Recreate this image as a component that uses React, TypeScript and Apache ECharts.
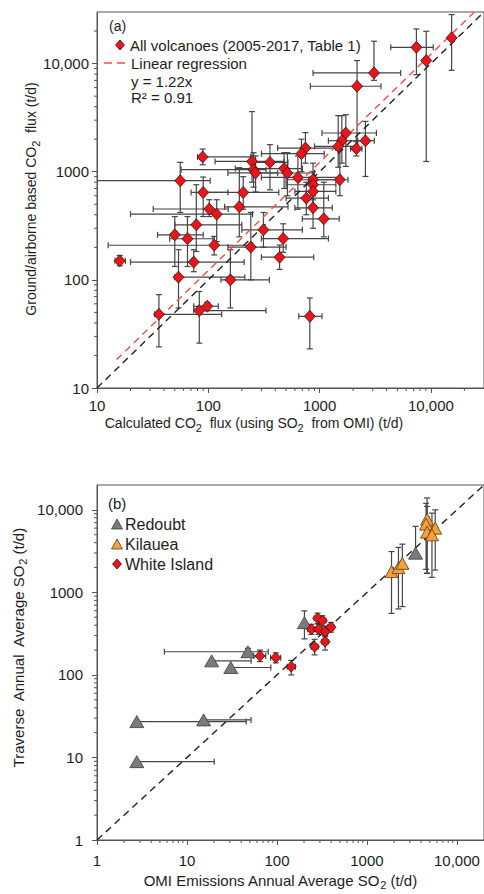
import React, { useEffect, useRef } from "react";
import * as echarts from "echarts";

const FONT = "'Liberation Sans', Arial, Helvetica, sans-serif";
const TEXT = "#1d1d1d";
const AXIS = "#555555";

// ---------- Panel (a): [calculated CO2, ground CO2, xLow, xHigh, yLow, yHigh] ----------
const volcanoesA: number[][] = [
  [89, 1370, 80, 240, 1160, 1620],
  [247, 1245, 115, 480, 800, 3600],
  [358, 1220, 250, 520, 680, 1780],
  [480, 1070, 175, 700, 700, 1500],
  [255, 1045, 57, 330, 720, 1500],
  [266, 975, 150, 420, 650, 1400],
  [56, 826, 10, 104, 420, 1220],
  [90, 643, 70, 150, 385, 893],
  [206, 643, 90, 430, 450, 900],
  [102, 452, 32, 151, 385, 551],
  [119, 405, 20, 250, 226, 551],
  [190, 474, 140, 520, 250, 1090],
  [78, 323, 50, 200, 183, 758],
  [50, 261, 35, 90, 133, 385],
  [65, 240, 45, 110, 133, 385],
  [113, 209, 12.6, 250, 170, 252],
  [241, 201, 150, 500, 100, 420],
  [313, 290, 200, 700, 200, 420],
  [471, 241, 300, 1200, 180, 330],
  [437, 162, 300, 885, 125, 210],
  [16, 150, 14.5, 18, 135, 168],
  [74, 146, 20, 210, 119, 190],
  [54, 106, 50, 213, 55, 190],
  [158, 100, 130, 354, 55, 190],
  [36, 48, 33, 132, 24, 73],
  [83, 52, 74, 330, 26, 78],
  [98, 57, 74, 123, 52, 62],
  [817, 46, 650, 1050, 23, 68],
  [15350, 17300, 15350, 15350, 8670, 28400],
  [7410, 14150, 4360, 10500, 7900, 20900],
  [9080, 10670, 9080, 9080, 1245, 19900],
  [3080, 8200, 873, 5350, 7000, 16100],
  [2170, 6170, 826, 3560, 1670, 10670],
  [1720, 2280, 1050, 3240, 1120, 3370],
  [1585, 1935, 1200, 2200, 1200, 3300],
  [1470, 1715, 900, 2200, 1100, 3300],
  [2580, 1935, 2140, 3100, 904, 2920],
  [2140, 1635, 1900, 2400, 1400, 1900],
  [746, 1655, 420, 1400, 1200, 2300],
  [687, 1470, 300, 1100, 1000, 2000],
  [514, 973, 250, 900, 600, 1500],
  [638, 885, 300, 1500, 450, 1400],
  [873, 843, 500, 1500, 600, 1200],
  [873, 758, 500, 1400, 550, 1000],
  [873, 658, 600, 1400, 450, 900],
  [1520, 843, 800, 1800, 600, 1600],
  [760, 570, 500, 1200, 400, 800],
  [873, 464, 600, 1300, 300, 700],
  [1090, 367, 700, 1500, 250, 800],
];
const regressionA: number[][] = [[15, 18.3], [24590, 30000]];
const oneToOneA: number[][] = [[10, 10], [30000, 30000]];
const rangeA = [10, 30000];

// ---------- Panel (b): [OMI SO2, traverse SO2, xLow, xHigh, yLow, yHigh] ----------
const redoubtB: number[][] = [
  [47.5, 191, 5.6, 80, 175, 210],
  [18.8, 148, 18.8, 51.6, 148, 148],
  [30.7, 123, 30.7, 85.5, 123, 123],
  [2.77, 27.2, 2.77, 45.5, 27.2, 27.2],
  [15.3, 28.5, 15.3, 51.6, 28.5, 28.5],
  [2.77, 8.9, 2.77, 20.1, 8.9, 8.9],
  [202, 430, 202, 202, 273, 597],
  [3470, 2985, 3470, 3470, 2985, 6300],
];
const kilaueaB: number[][] = [
  [1876, 1786, 1876, 1876, 557, 3126],
  [2240, 1995, 2240, 2240, 630, 3510],
  [2477, 2250, 2477, 2477, 673, 3840],
  [4660, 7710, 4500, 4900, 1708, 13900],
  [4540, 6710, 4400, 4700, 1900, 12000],
  [4660, 5370, 4500, 4800, 1700, 11000],
  [5740, 6000, 5500, 6000, 1865, 10000],
  [5280, 4980, 5100, 5500, 1520, 9120],
];
const whiteIslandB: number[][] = [
  [64.8, 170, 55, 75, 145, 200],
  [97, 162, 85, 110, 140, 185],
  [144, 126, 130, 160, 100, 150],
  [262, 220, 240, 285, 175, 270],
  [343, 253, 315, 370, 200, 300],
  [283, 487, 260, 310, 420, 560],
  [321, 455, 295, 350, 390, 520],
  [241, 358, 220, 265, 310, 410],
  [290, 358, 265, 315, 310, 410],
  [343, 335, 315, 370, 290, 390],
  [399, 379, 365, 430, 330, 430],
];
const oneToOneB: number[][] = [[1, 1], [20000, 20000]];
const rangeB = [1, 20000];

function logLabel(v: number): string {
  const l = Math.log10(v);
  if (Math.abs(l - Math.round(l)) > 1e-6) return "";
  const r = Math.round(v);
  return r >= 10000 ? r.toLocaleString("en-US") : String(r);
}

function minorTickValues(min: number, max: number): number[][] {
  const out: number[][] = [];
  for (let e = Math.floor(Math.log10(min)); e <= Math.ceil(Math.log10(max)); e++) {
    for (let m = 2; m <= 9; m++) {
      const v = m * Math.pow(10, e);
      if (v > min && v < max) out.push([v]);
    }
  }
  return out;
}

const barStyle = { stroke: "#454545", lineWidth: 1.2 };

function errorBarRenderer(cap: number, xMin: number) {
  return (_params: any, api: any) => {
    const x = api.value(0), y = api.value(1);
    const xl = api.value(2), xh = api.value(3), yl = api.value(4), yh = api.value(5);
    const children: any[] = [];
    if (xh > xl) {
      const a = api.coord([xl, y]);
      const b = api.coord([xh, y]);
      children.push({ type: "line", shape: { x1: a[0], y1: a[1], x2: b[0], y2: b[1] }, style: barStyle });
      if (xl > xMin) children.push({ type: "line", shape: { x1: a[0], y1: a[1] - cap, x2: a[0], y2: a[1] + cap }, style: barStyle });
      children.push({ type: "line", shape: { x1: b[0], y1: b[1] - cap, x2: b[0], y2: b[1] + cap }, style: barStyle });
    }
    if (yh > yl) {
      const a = api.coord([x, yl]);
      const b = api.coord([x, yh]);
      children.push({ type: "line", shape: { x1: a[0], y1: a[1], x2: b[0], y2: b[1] }, style: barStyle });
      children.push({ type: "line", shape: { x1: a[0] - cap, y1: a[1], x2: a[0] + cap, y2: a[1] }, style: barStyle });
      children.push({ type: "line", shape: { x1: b[0] - cap, y1: b[1], x2: b[0] + cap, y2: b[1] }, style: barStyle });
    }
    return { type: "group", children };
  };
}

function minorTickRenderer(min: number) {
  return (_params: any, api: any) => {
    const v = api.value(0);
    const px = api.coord([v, min]);
    const py = api.coord([min, v]);
    const st = { stroke: AXIS, lineWidth: 1 };
    return {
      type: "group",
      children: [
        { type: "line", shape: { x1: px[0], y1: px[1], x2: px[0], y2: px[1] + 3 }, style: st },
        { type: "line", shape: { x1: py[0], y1: py[1], x2: py[0] - 3, y2: py[1] }, style: st },
      ],
    };
  };
}

function logAxis(range: number[], gridIndex: number, fontSize: number, margin: number) {
  return {
    type: "log",
    logBase: 10,
    gridIndex,
    min: range[0],
    max: range[1],
    axisLine: { show: true, lineStyle: { color: AXIS, width: 1 } },
    axisTick: { show: true, inside: false, length: 5, lineStyle: { color: AXIS } },
    splitLine: { show: false },
    minorTick: { show: false },
    axisLabel: {
      show: true,
      margin,
      fontSize,
      fontFamily: FONT,
      color: TEXT,
      showMinLabel: true,
      showMaxLabel: false,
      formatter: logLabel,
    },
  };
}

const subRich = { s: { fontSize: 11, fontFamily: FONT, fill: TEXT, verticalAlign: "bottom", lineHeight: 11 } };

function textEl(text: string, x: number, y: number, fontSize: number, align = "left", rotation = 0): any {
  return {
    type: "text",
    x,
    y,
    rotation,
    silent: true,
    style: {
      text,
      fill: TEXT,
      fontSize,
      fontFamily: FONT,
      lineHeight: 20,
      align,
      verticalAlign: "middle",
      textAlign: align,
      textVerticalAlign: "middle",
      rich: subRich,
    },
  };
}

function diamond(cx: number, cy: number, hw: number, hh: number, fill: string): any {
  return {
    type: "polygon",
    silent: true,
    shape: { points: [[cx, cy - hh], [cx + hw, cy], [cx, cy + hh], [cx - hw, cy]] },
    style: { fill, stroke: "#3a1010", lineWidth: 0.8 },
  };
}

function triangle(cx: number, cy: number, hw: number, hh: number, fill: string, stroke: string): any {
  return {
    type: "polygon",
    silent: true,
    shape: { points: [[cx, cy - hh], [cx + hw, cy + hh], [cx - hw, cy + hh]] },
    style: { fill, stroke, lineWidth: 0.8 },
  };
}

export default function App() {
  const ref = useRef<HTMLDivElement>(null);

  useEffect(() => {
    if (!ref.current) return;
    const chart = echarts.init(ref.current, undefined, { renderer: "svg" });

    const pt = (d: number[][]) => d.map((r) => [r[0], r[1]]);

    const option: any = {
      animation: false,
      backgroundColor: "#ffffff",
      grid: [
        { left: 97, top: 12, width: 393, height: 376, show: true, borderColor: AXIS, borderWidth: 1, backgroundColor: "transparent" },
        { left: 97, top: 485, width: 392.5, height: 355, show: true, borderColor: AXIS, borderWidth: 1, backgroundColor: "transparent" },
      ],
      xAxis: [logAxis(rangeA, 0, 15, 10), logAxis(rangeB, 1, 15, 13)],
      yAxis: [logAxis(rangeA, 0, 15, 8), logAxis(rangeB, 1, 15, 14)],
      series: [
        // panel (a)
        {
          type: "custom", name: "minorA", xAxisIndex: 0, yAxisIndex: 0, silent: true, clip: false, z: 1,
          data: minorTickValues(rangeA[0], rangeA[1]), encode: { x: 0, y: 0 },
          renderItem: minorTickRenderer(rangeA[0]),
        },
        {
          type: "custom", name: "errA", xAxisIndex: 0, yAxisIndex: 0, silent: true, z: 2,
          data: volcanoesA, encode: { x: [0, 2, 3], y: [1, 4, 5] },
          renderItem: errorBarRenderer(3, rangeA[0]),
        },
        {
          type: "line", name: "1:1 (a)", xAxisIndex: 0, yAxisIndex: 0, data: oneToOneA, symbol: "none", z: 3,
          lineStyle: { color: "#222", width: 1.4, type: [7, 5] }, silent: true,
        },
        {
          type: "line", name: "Linear regression", xAxisIndex: 0, yAxisIndex: 0, data: regressionA, symbol: "none", z: 3,
          lineStyle: { color: "#f0504a", width: 1.4, type: [7, 5] }, silent: true,
        },
        {
          type: "scatter", name: "All volcanoes (2005-2017, Table 1)", xAxisIndex: 0, yAxisIndex: 0, z: 4,
          data: pt(volcanoesA), symbol: "diamond", symbolSize: [11, 12],
          itemStyle: { color: "#e8161c", borderColor: "#3a1010", borderWidth: 0.8, opacity: 1 },
        },
        // panel (b)
        {
          type: "custom", name: "minorB", xAxisIndex: 1, yAxisIndex: 1, silent: true, clip: false, z: 1,
          data: minorTickValues(rangeB[0], rangeB[1]), encode: { x: 0, y: 0 },
          renderItem: minorTickRenderer(rangeB[0]),
        },
        {
          type: "custom", name: "errRedoubt", xAxisIndex: 1, yAxisIndex: 1, silent: true, z: 2,
          data: redoubtB, encode: { x: [0, 2, 3], y: [1, 4, 5] },
          renderItem: errorBarRenderer(3, rangeB[0]),
        },
        {
          type: "custom", name: "errKilauea", xAxisIndex: 1, yAxisIndex: 1, silent: true, z: 2,
          data: kilaueaB, encode: { x: [0, 2, 3], y: [1, 4, 5] },
          renderItem: errorBarRenderer(3, rangeB[0]),
        },
        {
          type: "custom", name: "errWhite", xAxisIndex: 1, yAxisIndex: 1, silent: true, z: 2,
          data: whiteIslandB, encode: { x: [0, 2, 3], y: [1, 4, 5] },
          renderItem: errorBarRenderer(3, rangeB[0]),
        },
        {
          type: "line", name: "1:1 (b)", xAxisIndex: 1, yAxisIndex: 1, data: oneToOneB, symbol: "none", z: 3,
          lineStyle: { color: "#222", width: 1.4, type: [7, 5] }, silent: true,
        },
        {
          type: "scatter", name: "Redoubt", xAxisIndex: 1, yAxisIndex: 1, z: 4,
          data: pt(redoubtB), symbol: "triangle", symbolSize: [14, 12],
          itemStyle: { color: "#7b7b7b", borderColor: "#3c3c3c", borderWidth: 0.8, opacity: 1 },
        },
        {
          type: "scatter", name: "Kilauea", xAxisIndex: 1, yAxisIndex: 1, z: 4,
          data: pt(kilaueaB), symbol: "triangle", symbolSize: [13, 12],
          itemStyle: { color: "#f4a03c", borderColor: "#5a3a12", borderWidth: 0.8, opacity: 1 },
        },
        {
          type: "scatter", name: "White Island", xAxisIndex: 1, yAxisIndex: 1, z: 4,
          data: pt(whiteIslandB), symbol: "diamond", symbolSize: [10, 11],
          itemStyle: { color: "#e8161c", borderColor: "#3a1010", borderWidth: 0.8, opacity: 1 },
        },
      ],
      graphic: [
        // panel (a) annotations
        textEl("(a)", 109, 26, 14),
        diamond(120, 45, 4.5, 5, "#e8161c"),
        textEl("All volcanoes (2005-2017, Table 1)", 130, 45, 15),
        {
          type: "line", silent: true,
          shape: { x1: 104, y1: 63, x2: 126, y2: 63 },
          style: { stroke: "#f0504a", lineWidth: 1.5, lineDash: [8, 5] },
        },
        textEl("Linear regression", 131, 63, 15),
        textEl("y = 1.22x", 131, 81, 15),
        textEl("R² = 0.91", 131, 97, 15),
        textEl("Calculated CO{s|2}  flux (using SO{s|2}  from OMI) (t/d)", 254, 423, 14, "center"),
        textEl("Ground/airborne based CO{s|2}  flux (t/d)", 31, 199, 14, "center", Math.PI / 2),
        // panel (b) annotations
        textEl("(b)", 108, 503, 15),
        triangle(117, 524, 5.5, 5, "#7b7b7b", "#3c3c3c"),
        textEl("Redoubt", 125, 524, 16),
        triangle(117, 544, 5.5, 5, "#f4a03c", "#5a3a12"),
        textEl("Kilauea", 125, 544, 16),
        diamond(117, 564, 4.5, 5, "#e8161c"),
        textEl("White Island", 125, 564, 16),
        textEl("OMI Emissions Annual Average SO{s|2} (t/d)", 280, 880, 15, "center"),
        textEl("Traverse  Annual  Average SO{s|2} (t/d)", 18, 648, 15, "center", Math.PI / 2),
      ],
    };

    chart.setOption(option);
    return () => chart.dispose();
  }, []);

  return (
    <div
      ref={ref}
      style={{ position: "absolute", left: 0, top: 0, width: 484, height: 894, background: "#fff" }}
    />
  );
}
